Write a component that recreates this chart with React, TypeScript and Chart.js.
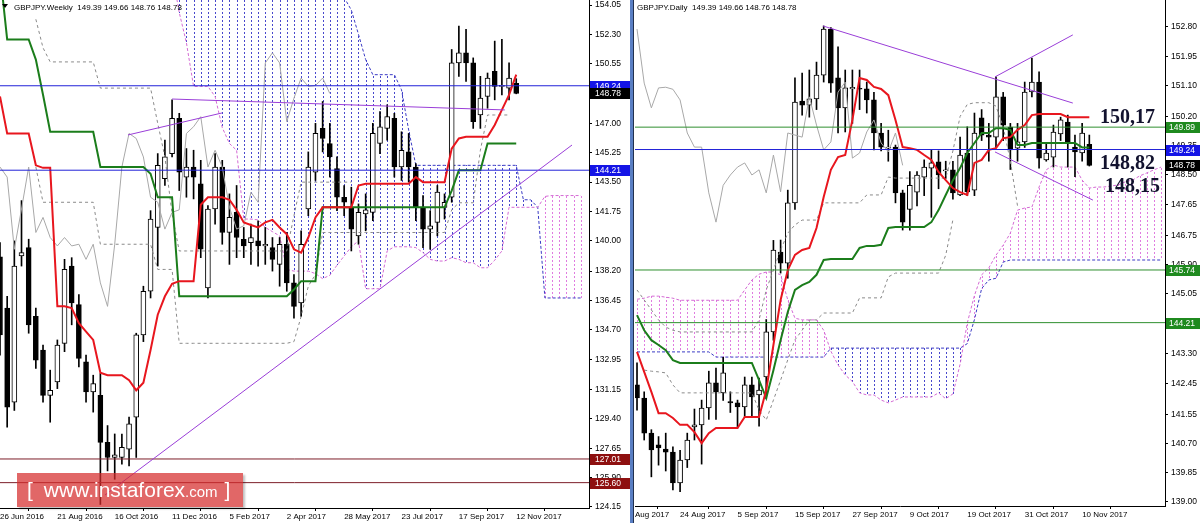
import React, { useEffect, useRef } from 'react';
import { Chart, registerables } from 'chart.js';
Chart.register(...registerables);

const FONT = '"Liberation Sans", Arial, sans-serif';

// ===================== WEEKLY (left panel) =====================
const weeklyTickIndex = [0, 8, 16, 24, 32, 40, 48, 56, 64, 72];
const weeklyTickLabels = ['26 Jun 2016', '21 Aug 2016', '16 Oct 2016', '11 Dec 2016', '5 Feb 2017', '2 Apr 2017', '28 May 2017', '23 Jul 2017', '17 Sep 2017', '12 Nov 2017'];
const weeklyPriceTicks = [154.05, 152.3, 150.55, 148.8, 147.0, 145.25, 143.5, 141.75, 140.0, 138.2, 136.45, 134.7, 132.95, 131.15, 129.4, 127.65, 125.9, 124.15];

const wOpen = [139.05, 136.0, 130.4, 139.1, 139.6, 135.5, 133.5, 130.8, 131.6, 133.9,
  138.5, 136.2, 132.8, 131.0, 130.8, 128.0, 127.1, 127.1, 127.6, 129.5,
  134.4, 137.0, 140.8, 143.7, 145.2, 147.3, 143.8, 144.4, 143.4, 137.2,
  141.9, 144.4, 140.5, 141.7, 140.1, 139.9, 140.0, 139.7, 139.6, 138.6,
  139.8, 137.5, 136.3, 141.9, 144.1, 146.7, 145.8, 144.3, 142.6, 142.0,
  140.3, 141.6, 141.7, 145.8, 146.7, 147.3, 144.4, 145.3, 144.4, 142.0,
  140.7, 141.1, 142.0, 142.6, 150.6, 151.2, 150.6, 147.5, 148.6, 150.1,
  149.2, 149.1, 149.39];
const wHigh = [139.9, 136.7, 140.0, 142.4, 140.1, 136.0, 133.8, 132.3, 134.1, 138.9,
  139.0, 136.8, 133.2, 132.0, 132.1, 129.0, 128.5, 128.5, 129.5, 134.5,
  137.3, 141.8, 145.2, 146.0, 148.4, 147.6, 145.5, 145.4, 144.8, 142.1,
  145.2, 144.8, 142.8, 143.3, 140.8, 141.0, 141.2, 140.8, 140.2, 140.2,
  140.5, 138.0, 140.6, 145.3, 147.0, 148.3, 147.0, 145.0, 143.3, 143.2,
  142.2, 142.8, 147.0, 147.7, 148.1, 147.6, 146.5, 146.4, 144.6, 142.7,
  141.8, 143.3, 142.8, 151.4, 152.8, 152.6, 150.9, 149.8, 150.0, 151.9,
  152.0, 150.6, 149.66];
const wLow = [133.2, 128.9, 129.9, 138.5, 134.5, 132.4, 130.4, 129.2, 131.2, 133.4,
  135.0, 132.5, 130.4, 129.8, 124.3, 126.3, 125.8, 126.7, 126.6, 127.1,
  134.0, 136.6, 138.5, 143.3, 145.0, 143.0, 142.6, 142.5, 139.0, 136.6,
  141.0, 139.8, 138.6, 139.0, 139.0, 138.6, 138.5, 138.6, 138.2, 137.3,
  137.0, 135.4, 135.5, 141.5, 143.6, 145.3, 143.8, 141.8, 141.5, 139.4,
  139.8, 140.6, 141.2, 145.2, 146.0, 143.8, 143.6, 143.5, 141.2, 139.6,
  139.5, 140.3, 141.3, 142.3, 149.8, 149.5, 146.7, 146.7, 147.9, 148.4,
  148.7, 148.4, 148.76];
const wClose = [134.4, 130.1, 138.5, 139.3, 135.0, 132.9, 130.8, 131.1, 133.8, 138.3,
  136.3, 133.0, 131.0, 131.5, 128.0, 127.1, 127.25, 127.7, 129.1, 134.4,
  137.0, 141.3, 144.5, 145.0, 147.3, 144.1, 144.4, 143.8, 139.5, 141.9,
  144.4, 140.5, 141.4, 140.2, 139.7, 140.2, 139.7, 139.8, 138.9, 139.8,
  137.5, 136.1, 139.8, 144.4, 146.4, 146.1, 145.0, 142.6, 142.3, 140.7,
  141.7, 141.85, 146.4, 146.8, 147.4, 144.4, 145.4, 144.4, 142.0, 140.7,
  140.9, 142.9, 142.3, 150.6, 151.2, 150.6, 147.1, 148.5, 149.7, 149.2,
  149.25, 149.7, 148.78];

const wTenkan = [148.6, 146.4, 146.4, 146.4, 146.4, 144.5, 144.35, 144.35, 136.1, 136.1,
  136.0, 135.1, 134.6, 134.1, 132.15, 132.0, 132.0, 132.0, 131.7, 131.1,
  131.55, 133.5, 135.6, 136.7, 137.45, 137.6, 137.6, 137.6, 142.15, 142.6,
  142.6, 142.6, 142.45, 141.85, 141.1, 140.95, 140.8, 141.1, 141.25, 140.8,
  140.4, 139.5, 139.3, 140.2, 141.4, 142.0, 142.0, 142.0, 142.0, 142.0,
  143.3, 143.4, 143.4, 143.4, 143.4, 143.4, 143.4, 143.4, 143.8, 143.5,
  143.5, 143.5, 143.5, 145.5, 146.1, 146.2, 146.2, 146.2, 146.2, 146.9,
  147.8, 148.7, 149.9];
const wKijun = [156.0, 152.0, 152.0, 152.0, 152.0, 150.8, 148.7, 146.5, 146.5, 146.5,
  146.5, 146.5, 146.5, 146.5, 144.4, 144.4, 144.4, 144.4, 144.4, 144.4,
  144.4, 144.0, 142.6, 142.6, 142.6, 136.7, 136.7, 136.7, 136.7, 136.7,
  136.7, 136.7, 136.7, 136.7, 136.7, 136.7, 136.7, 136.7, 136.7, 136.7,
  136.7, 137.1, 137.6, 137.6, 137.6, 142.0, 142.0, 142.0, 142.0, 142.0,
  142.0, 142.0, 142.0, 142.0, 142.0, 142.0, 142.0, 142.0, 142.0, 142.0,
  142.0, 142.0, 142.0, 143.0, 144.2, 144.2, 144.2, 144.2, 145.8, 145.8,
  145.8, 145.8, 145.8];
const wSpanA = [172.0, 171.0, 170.0, 169.0, 168.5, 168.0, 167.0, 166.0, 165.5, 165.0,
  164.0, 163.5, 163.0, 162.0, 161.5, 161.0, 160.5, 160.0, 159.5, 159.0,
  158.5, 158.0, 157.5, 157.0, 156.0, 153.6,
  151.8, 149.2, 149.2, 149.2, 148.6, 146.75, 145.8, 145.4, 141.3, 141.3,
  141.25, 140.8, 140.55, 140.3, 138.3, 138.2, 138.2, 138.2, 138.05, 137.75,
  137.95, 138.55, 139.1, 139.65, 140.0, 137.15, 137.15, 137.15, 139.4, 139.65,
  139.65, 139.65, 139.6, 139.3, 138.9, 138.8, 138.8, 139.0, 138.9, 138.7,
  138.7, 138.4, 138.4, 138.85, 139.4, 142.0, 142.0, 142.0, 142.0, 142.0,
  142.65, 142.7, 142.7, 142.7, 142.7, 142.7];
const wSpanB = [176.0, 176.0, 176.0, 176.0, 175.0, 175.0, 175.0, 175.0, 174.0, 174.0,
  172.0, 172.0, 170.0, 170.0, 168.5, 168.5, 168.5, 167.0, 167.0, 167.0,
  165.0, 165.0, 164.0, 164.0, 164.0, 162.5, 162.5, 162.5, 162.5, 162.5,
  160.5, 160.5, 160.5, 160.5, 159.0, 159.0, 159.0, 159.0, 158.0, 158.0,
  158.0, 157.5, 157.5, 157.0, 156.5, 156.0, 155.5, 155.0,
  154.5, 153.75, 152.3, 150.8, 149.9, 149.9, 149.9, 149.9, 149.0, 146.6,
  144.5, 144.5, 144.5, 144.5, 144.5, 144.5, 144.5, 144.5, 144.5, 144.5,
  144.5, 144.5, 144.5, 144.5, 144.5, 142.45, 142.45, 142.0, 136.6, 136.6,
  136.6, 136.6, 136.6, 136.6];
const wGrayUpper = [null, null, null, null, null, 153.2, 151.5, 150.66, 150.66, 150.66,
  150.66, 150.66, 150.66, 150.66, 149.1, 149.1, 149.1, 149.1, 149.1, 149.1,
  149.1, 149.1, 147.0, 145.0, 141.6, 139.4, 139.4, 139.4, 139.4, 139.4,
  139.4, 139.4, 139.4, 139.4, 139.4, 139.4, 139.4, 139.4, 139.4, 139.4,
  139.4, 141.5, 143.5, 143.5, 143.5, 143.5, 143.5, 143.5, 143.5, 143.5];
const wGrayLower = [null, null, null, null, null, 144.4, 142.3, 142.3, 142.3, 142.3,
  142.3, 142.3, 142.3, 142.3, 139.8, 139.8, 139.8, 139.8, 139.8, 139.8,
  139.8, 139.8, 138.3, 138.3, 138.3, 133.9, 133.9, 133.9, 133.9, 133.9,
  133.9, 133.9, 133.9, 133.9, 133.9, 133.9, 133.9, 133.9, 133.9, 133.9,
  133.9, 134.0, 135.5, 137.3, 138.0, 140.5, 140.5, 140.5, 140.5, 140.5,
  140.5, 140.5, 140.5, 140.5, 140.5, 140.5, 140.5, 140.5, 140.5, 140.5,
  140.5, 140.5, 140.5, 141.85, 142.27, 142.27, 142.27, 145.4, 147.5, 147.5,
  147.5, 147.5];
const wLevelsBlue = [149.24, 144.21];
const wLevelsMaroon = [127.01, 125.6];
const wMarkerValues = [149.24, 148.78, 144.21, 127.01, 125.6];
const wTrendShort = [[17.85, 146.31], [30.96, 147.62]];
const wTrendFlat = [[24.0, 148.45], [70.4, 147.8]];
const wTrendLong = [[14.64, 124.86], [79.78, 145.71]];

// ===================== DAILY (right panel) =====================
const dailyTickIndex = [-0.28, 6, 14, 22, 30, 38, 46, 54, 62];
const dailyTickLabels = ['Aug 2017', '24 Aug 2017', '5 Sep 2017', '15 Sep 2017', '27 Sep 2017', '9 Oct 2017', '19 Oct 2017', '31 Oct 2017', '10 Nov 2017'];
const dailyPriceTicks = [152.8, 151.95, 151.1, 150.2, 149.35, 148.5, 147.65, 146.75, 145.9, 145.05, 144.2, 143.3, 142.45, 141.55, 140.7, 139.85, 139.0];

const dOpen = [142.40, 142.02, 141.00, 140.66, 140.54, 140.45, 139.55, 140.22, 141.18, 141.24,
  141.73, 142.46, 142.17, 141.92, 141.88, 141.76, 142.40, 142.11, 142.63, 143.94,
  146.26, 145.94, 147.69, 150.65, 150.53, 150.71, 151.40, 152.74, 151.32, 150.45,
  151.00, 151.02, 151.00, 150.68, 149.72, 149.28, 149.31, 147.98, 147.50, 148.00,
  148.44, 148.70, 148.88, 148.62, 148.65, 147.92, 149.14, 148.06, 150.16, 149.66,
  149.60, 150.77, 149.89, 149.28, 149.46, 150.91, 151.20, 148.94, 149.02, 149.69,
  150.04, 149.31, 149.14, 149.39];
const dHigh = [143.04, 142.20, 141.10, 140.90, 141.00, 140.60, 140.50, 141.00, 141.70, 141.96,
  142.80, 142.89, 143.20, 142.20, 141.96, 142.63, 142.63, 142.60, 144.30, 146.60,
  146.61, 148.06, 151.32, 151.46, 151.55, 151.78, 152.83, 152.78, 152.22, 151.55,
  151.55, 151.55, 151.20, 150.90, 150.00, 149.80, 149.37, 148.06, 148.60, 148.60,
  148.94, 149.23, 149.20, 148.90, 148.90, 149.60, 149.90, 150.30, 150.40, 150.00,
  151.35, 150.90, 150.00, 150.00, 151.20, 151.90, 151.50, 149.40, 149.95, 150.18,
  150.24, 149.66, 150.00, 149.66];
const dLow = [141.67, 140.80, 139.73, 140.07, 139.90, 139.35, 139.30, 140.00, 140.80, 140.10,
  141.40, 141.40, 141.95, 141.60, 141.15, 141.47, 141.50, 141.20, 142.00, 143.70,
  145.65, 145.50, 147.50, 150.24, 150.18, 150.40, 151.20, 150.90, 149.72, 149.75,
  150.00, 150.40, 150.30, 149.23, 149.20, 148.90, 147.69, 146.90, 146.90, 147.60,
  147.90, 147.27, 148.10, 148.40, 147.80, 147.90, 147.90, 147.90, 149.50, 148.90,
  149.30, 149.50, 148.66, 148.90, 149.30, 150.77, 148.70, 148.90, 148.73, 149.50,
  148.73, 148.45, 148.90, 148.76];
const dClose = [142.02, 141.00, 140.51, 140.57, 140.45, 139.55, 140.22, 140.80, 141.24, 141.73,
  142.46, 142.20, 142.75, 141.88, 141.76, 142.40, 142.05, 142.25, 143.94, 146.32,
  145.94, 147.69, 150.62, 150.53, 150.71, 151.40, 152.74, 151.17, 150.45, 151.03,
  151.05, 150.99, 150.68, 149.72, 149.31, 149.31, 147.98, 147.13, 148.20, 148.50,
  148.73, 148.85, 148.50, 148.65, 147.98, 149.08, 148.01, 149.72, 149.66, 149.60,
  150.77, 149.95, 149.23, 149.46, 150.91, 151.20, 148.99, 149.14, 149.75, 150.10,
  149.43, 149.17, 149.72, 148.78];

const dTenkan = [143.36, 142.78, 142.20, 141.58, 141.58, 141.44, 141.24, 141.24, 141.03, 140.71,
  141.00, 141.15, 141.15, 141.15, 141.15, 141.47, 141.47, 141.47, 142.25, 143.56,
  144.87, 145.74, 146.18, 146.32, 146.38, 146.96, 147.86, 148.65, 149.02, 149.08,
  150.10, 151.32, 151.26, 151.06, 151.00, 150.82, 150.10, 149.31, 149.28, 149.23,
  149.08, 148.94, 148.59, 148.35, 148.12, 148.00, 147.92, 148.85, 148.94, 149.23,
  149.28, 149.57, 149.60, 149.81, 149.95, 150.24, 150.27, 150.27, 150.27, 150.27,
  150.18, 150.18, 150.18, 150.18];
const dKijun = [144.43, 143.99, 143.70, 143.56, 143.41, 143.12, 143.04, 143.04, 143.04, 143.04,
  143.04, 143.04, 143.04, 143.04, 143.04, 143.04, 143.04, 142.54, 142.02, 142.83,
  143.70, 144.52, 145.16, 145.30, 145.39, 145.60, 146.03, 146.06, 146.06, 146.06,
  146.06, 146.38, 146.44, 146.44, 146.47, 146.96, 146.99, 146.99, 146.99, 146.99,
  146.99, 147.13, 147.48, 147.92, 148.35, 148.70, 149.14, 149.43, 149.72, 149.72,
  149.86, 149.86, 149.81, 149.37, 149.37, 149.43, 149.43, 149.43, 149.43, 149.43,
  149.43, 149.43, 149.30, 149.30];
const dSpanA = [144.89, 144.92, 144.98, 144.98, 144.95, 144.92, 144.86, 144.86, 144.86, 144.86,
  144.86, 144.86, 144.86, 144.86, 144.86, 145.16, 145.45, 145.62, 145.68, 145.68,
  145.60, 144.87, 144.34, 144.29, 144.29, 144.29, 143.99, 143.38, 142.98, 142.69,
  142.50, 142.17, 142.11, 142.11, 141.96, 141.88, 141.96, 142.05, 142.05, 142.05,
  142.05, 142.05, 142.17, 142.00, 142.14, 143.00, 144.20, 145.00, 145.60, 145.80,
  146.17, 146.46, 146.81, 147.48, 147.54, 147.57, 148.15, 148.65, 148.79, 148.73,
  148.73, 148.73, 148.35, 148.12, 148.15, 148.15, 148.18, 148.21, 148.30, 148.35,
  148.47, 148.56, 148.65, 148.73];
const dSpanB = [143.36, 143.36, 143.36, 143.36, 143.36, 143.36, 143.36, 143.36, 143.36, 143.36,
  143.36, 143.21, 143.21, 143.21, 143.21, 143.21, 143.21, 143.21, 143.21, 143.21,
  143.21, 143.21, 143.21, 143.21, 143.21, 143.21, 143.21, 143.47, 143.47, 143.47,
  143.47, 143.47, 143.47, 143.47, 143.47, 143.47, 143.47, 143.47, 143.47, 143.47,
  143.47, 143.47, 143.47, 143.47, 143.47, 143.47, 143.60, 144.30, 145.20, 145.45,
  145.50, 145.97, 146.03, 146.03, 146.03, 146.03, 146.03, 146.03, 146.03, 146.03,
  146.03, 146.03, 146.03, 146.03, 146.03, 146.03, 146.03, 146.03, 146.03, 146.03,
  146.03, 146.03, 146.03, 146.03];
const dGrayUpper = [145.16, 144.87, 144.58, 144.29, 144.08, 143.99,
  143.94, 143.94, 143.94, 143.94, 143.94, 143.94, 143.94, 143.94, 143.94, 143.94, 143.94,
  144.29, 145.16, 145.74, 146.32, 146.81, 147.05, 147.19, 147.19, 147.19,
  147.69, 147.69, 147.69, 147.69, 147.69, 147.69,
  147.92, 147.92, 147.92, 148.44,
  148.41, 148.41, 148.41, 148.41, 148.41, 148.41, 148.41, 148.41,
  149.20, 150.20, 150.55, 150.60, 150.60, 150.60, 150.50, 149.90, 148.90, 147.60];
const dGrayLower = [null, 142.83, 142.80, 142.78, 142.75, 142.40,
  142.17, 142.17, 142.17, 142.17, 142.17, 142.17, 142.17, 142.17, 142.17, 142.17, 142.17,
  141.67, 141.38, 141.96, 142.54, 143.13, 143.71, 143.99, 144.29, 144.29,
  144.49, 144.49, 144.49, 144.49, 144.49,
  144.93, 144.93, 144.93, 144.93, 145.54,
  145.65, 145.65, 145.65, 145.65, 145.65, 145.65, 145.65,
  146.17, 147.20];
const dLevelsGreen = [149.89, 145.74, 144.21];
const dLevelsBlue = [149.24];
const dMarkerValues = [149.89, 149.24, 148.78, 145.74, 144.21];
const dTrendTop = [[25.9, 152.83], [60.7, 150.59]];
const dTrendRise = [[49.86, 151.35], [60.7, 152.57]];
const dTrendLow = [[49.86, 149.17], [63.5, 147.77]];
const dNoteValues = [150.17, 148.82, 148.15];
const dNoteTexts = ['150,17', '148,82', '148,15'];

// ===================== styles =====================
const C = {
  red: '#e8161e', green: '#1b7d1b', chikou: '#a8a8a8', grayDash: '#8a8a8a',
  spanA: '#d46ad4', spanB: '#3a3ac4', hatchUp: '#e07ce0', hatchDown: '#4848cc',
  hBlue: '#2222d8', hGreen: '#2f8f2f', maroon: '#7d1f2a', trend: '#9a3ed8',
  boxBlue: '#1414e6', boxGreen: '#1f8a1f', boxMaroon: '#8e1010', boxBlack: '#000000',
};

const pts = (vals: any[], start = 0) =>
  vals.map((v, i) => (v == null ? null : { x: i + start, y: v })).filter(Boolean);
const pairPts = (p: number[][]) => p.map(([x, y]) => ({ x, y }));

const lineDs = (data: any[], color: string, width: number, order: number, dash: number[] = []) => ({
  type: 'line', data, borderColor: color, borderWidth: width, borderDash: dash,
  pointRadius: 0, tension: 0, fill: false, order, borderCapStyle: 'butt',
});

function candleDs(o: number[], h: number[], l: number[], c: number[], w: number) {
  return [
    {
      type: 'bar', data: o.map((v, i) => ({ x: i, y: [v, c[i]] })),
      backgroundColor: o.map((v, i) => (c[i] >= v ? '#ffffff' : '#000000')),
      borderColor: '#000000', borderWidth: 1, borderSkipped: false,
      barThickness: w, grouped: false, minBarLength: 1, order: 5,
    },
    {
      type: 'bar', data: h.map((v, i) => ({ x: i, y: [l[i], v] })),
      backgroundColor: '#000000', borderWidth: 0, barThickness: 1, grouped: false, order: 6,
    },
  ];
}

function hatchPlugin(a: number[], b: number[]) {
  return {
    id: 'hatch',
    beforeDatasetsDraw(chart: any) {
      const { ctx, chartArea: ca, scales } = chart;
      ctx.save();
      ctx.beginPath();
      ctx.rect(ca.left, ca.top, ca.right - ca.left, ca.bottom - ca.top);
      ctx.clip();
      ctx.lineWidth = 1;
      ctx.setLineDash([2, 2]);
      for (let i = 0; i < a.length; i++) {
        const x = Math.round(scales.x.getPixelForValue(i)) + 0.5;
        const ya = scales.y.getPixelForValue(a[i]);
        const yb = scales.y.getPixelForValue(b[i]);
        const top = Math.round(Math.min(ya, yb));
        const bot = Math.round(Math.max(ya, yb));
        if (bot < ca.top || top > ca.bottom) continue;
        ctx.strokeStyle = a[i] >= b[i] ? C.hatchUp : C.hatchDown;
        ctx.lineDashOffset = ((top % 4) + 4) % 4;
        ctx.beginPath();
        ctx.moveTo(x, top);
        ctx.lineTo(x, bot);
        ctx.stroke();
      }
      ctx.restore();
    },
  };
}

function overlayPlugin(opts: any) {
  return {
    id: 'overlay',
    afterDraw(chart: any) {
      const { ctx, chartArea: ca, scales } = chart;
      ctx.save();
      // price boxes
      ctx.font = '8.5px ' + FONT;
      ctx.textBaseline = 'middle';
      ctx.textAlign = 'left';
      opts.markers.forEach((v: number, i: number) => {
        const py = Math.round(scales.y.getPixelForValue(v));
        ctx.fillStyle = opts.markerColors[i];
        ctx.fillRect(ca.right + 1, py - 5, opts.boxWidth, 11);
        ctx.fillStyle = '#ffffff';
        ctx.fillText(v.toFixed(2), ca.right + opts.boxTextPad, py + 0.5);
      });
      // title
      ctx.fillStyle = '#000000';
      ctx.font = '8px ' + FONT;
      ctx.fillText(opts.title, opts.titleX, 8);
      if (opts.triangle) {
        ctx.beginPath();
        ctx.moveTo(2, 4);
        ctx.lineTo(8, 4);
        ctx.lineTo(5, 8);
        ctx.closePath();
        ctx.fill();
      }
      // notes
      if (opts.notes) {
        ctx.font = 'bold 20px "Liberation Serif", "Times New Roman", serif';
        ctx.fillStyle = '#12122e';
        opts.notes.forEach((t: string, i: number) => {
          const py = scales.y.getPixelForValue(opts.noteValues[i]);
          ctx.fillText(t, ca.right + opts.noteOffsets[i], py);
        });
      }
      ctx.restore();
    },
  };
}

function axes(xMin: number, xMax: number, yMin: number, yMax: number, xTicks: number[], xLabels: string[], yTicks: number[], yWidth: number, xHeight: number) {
  const grid = { display: true, drawOnChartArea: false, drawTicks: true, tickLength: 3, color: '#000', tickColor: '#000' };
  const border = { display: true, color: '#000', width: 1 };
  return {
    x: {
      type: 'linear', min: xMin, max: xMax, offset: false, position: 'bottom',
      afterBuildTicks: (s: any) => { s.ticks = xTicks.map((v) => ({ value: v })); },
      afterFit: (s: any) => { s.height = xHeight; s.paddingLeft = 0; s.paddingRight = 0; },
      ticks: {
        autoSkip: false, maxRotation: 0, minRotation: 0, align: 'start', padding: 1,
        color: '#000', font: { family: FONT, size: 8 },
        callback: (_v: any, i: number) => xLabels[i],
      },
      grid, border,
    },
    y: {
      type: 'linear', position: 'right', min: yMin, max: yMax, beginAtZero: false,
      afterBuildTicks: (s: any) => { s.ticks = yTicks.map((v) => ({ value: v })); },
      afterFit: (s: any) => { s.width = yWidth; s.paddingTop = 0; s.paddingBottom = 0; },
      ticks: { padding: 3, color: '#000', font: { family: FONT, size: 8.5 }, callback: (v: any) => Number(v).toFixed(2) },
      grid, border,
    },
  };
}

const baseOpts = (scales: any, padLeft: number) => ({
  responsive: false, animation: false, devicePixelRatio: 1, events: [],
  layout: { padding: { left: padLeft, right: 0, top: 0, bottom: 0 } },
  plugins: { legend: { display: false }, tooltip: { enabled: false } },
  scales,
});

function weeklyConfig() {
  const xMin = 0, xMax = 82.15;
  const last = wOpen.length - 1;
  const title = 'GBPJPY.Weekly  ' + [wOpen[last], wHigh[last], wLow[last], wClose[last]].map((v) => v.toFixed(2)).join(' ');
  const datasets: any[] = [
    lineDs(pairPts(wTrendShort), C.trend, 1, 0),
    lineDs(pairPts(wTrendFlat), C.trend, 1, 0),
    lineDs(pairPts(wTrendLong), C.trend, 1, 0),
    ...wLevelsBlue.map((v) => lineDs([{ x: xMin, y: v }, { x: xMax, y: v }], C.hBlue, 1, 1)),
    ...wLevelsMaroon.map((v) => lineDs([{ x: xMin, y: v }, { x: xMax, y: v }], C.maroon, 1, 1)),
    lineDs(pts(wTenkan), C.red, 2, 2),
    lineDs(pts(wKijun), C.green, 2, 2),
    lineDs(pts(wClose.slice(26)), C.chikou, 1, 3),
    lineDs(pts(wGrayUpper), C.grayDash, 1, 4, [3, 3]),
    lineDs(pts(wGrayLower), C.grayDash, 1, 4, [3, 3]),
    ...candleDs(wOpen, wHigh, wLow, wClose, 5),
    lineDs(pts(wSpanA), C.spanA, 1, 7, [3, 2]),
    lineDs(pts(wSpanB), C.spanB, 1, 7, [3, 2]),
  ];
  return {
    type: 'line',
    data: { datasets },
    options: baseOpts(axes(xMin, xMax, 124.09, 154.348, weeklyTickIndex, weeklyTickLabels, weeklyPriceTicks, 41, 15), 0),
    plugins: [
      hatchPlugin(wSpanA, wSpanB),
      overlayPlugin({
        markers: wMarkerValues,
        markerColors: [C.boxBlue, C.boxBlack, C.boxBlue, C.boxMaroon, C.boxMaroon],
        boxWidth: 40, boxTextPad: 6, title, titleX: 14, triangle: true,
      }),
    ],
  };
}

function dailyConfig() {
  const xMin = -0.28, xMax = 73.54;
  const last = dOpen.length - 1;
  const title = 'GBPJPY.Daily  ' + [dOpen[last], dHigh[last], dLow[last], dClose[last]].map((v) => v.toFixed(2)).join(' ');
  const datasets: any[] = [
    lineDs(pairPts(dTrendTop), C.trend, 1, 0),
    lineDs(pairPts(dTrendRise), C.trend, 1, 0),
    lineDs(pairPts(dTrendLow), C.trend, 1, 0),
    ...dLevelsGreen.map((v) => lineDs([{ x: xMin, y: v }, { x: xMax, y: v }], C.hGreen, 1, 1)),
    ...dLevelsBlue.map((v) => lineDs([{ x: xMin, y: v }, { x: xMax, y: v }], C.hBlue, 1, 1)),
    lineDs(pts(dTenkan), C.red, 2, 2),
    lineDs(pts(dKijun), C.green, 2, 2),
    lineDs(pts(dClose.slice(26)), C.chikou, 1, 3),
    lineDs(pts(dGrayUpper), C.grayDash, 1, 4, [3, 3]),
    lineDs(pts(dGrayLower), C.grayDash, 1, 4, [3, 3]),
    ...candleDs(dOpen, dHigh, dLow, dClose, 5),
    lineDs(pts(dSpanA), C.spanA, 1, 7, [3, 2]),
    lineDs(pts(dSpanB), C.spanB, 1, 7, [3, 2]),
  ];
  return {
    type: 'line',
    data: { datasets },
    options: baseOpts(axes(xMin, xMax, 138.883, 153.584, dailyTickIndex, dailyTickLabels, dailyPriceTicks, 35, 17), 1),
    plugins: [
      hatchPlugin(dSpanA, dSpanB),
      overlayPlugin({
        markers: dMarkerValues,
        markerColors: [C.boxGreen, C.boxBlue, C.boxBlack, C.boxGreen, C.boxGreen],
        boxWidth: 34, boxTextPad: 4, title, titleX: 3, triangle: false,
        notes: dNoteTexts, noteValues: dNoteValues, noteOffsets: [-65, -65, -60],
      }),
    ],
  };
}

export default function App() {
  const leftRef = useRef<HTMLCanvasElement>(null);
  const rightRef = useRef<HTMLCanvasElement>(null);
  useEffect(() => {
    const l = new Chart(leftRef.current as any, weeklyConfig() as any);
    const r = new Chart(rightRef.current as any, dailyConfig() as any);
    return () => { l.destroy(); r.destroy(); };
  }, []);
  return (
    <div style={{ position: 'fixed', left: 0, top: 0, width: 1200, height: 523, background: '#ffffff', overflow: 'hidden' }}>
      <canvas ref={leftRef} width={630} height={523} style={{ position: 'absolute', left: 0, top: 0, width: 630, height: 523 }} />
      <div style={{ position: 'absolute', left: 630, top: 0, width: 3, height: 523, background: '#5a7fc4' }} />
      <div style={{ position: 'absolute', left: 633, top: 0, width: 1, height: 523, background: '#23324f' }} />
      <canvas ref={rightRef} width={566} height={523} style={{ position: 'absolute', left: 634, top: 0, width: 566, height: 523 }} />
      <div style={{ position: 'absolute', left: 17, top: 473, width: 226, height: 34, background: 'rgba(214,45,45,0.72)', boxShadow: '2px 2px 2px rgba(0,0,0,0.25)', color: '#ffffff', fontFamily: FONT, whiteSpace: 'nowrap' }}>
        <div style={{ position: 'absolute', left: 10, top: 6, fontSize: 21, lineHeight: '21px' }}>
          <span>[</span><span style={{ marginLeft: 11 }}>www.instaforex</span><span style={{ fontSize: 15 }}>.com</span><span style={{ marginLeft: 7 }}>]</span>
        </div>
      </div>
    </div>
  );
}
